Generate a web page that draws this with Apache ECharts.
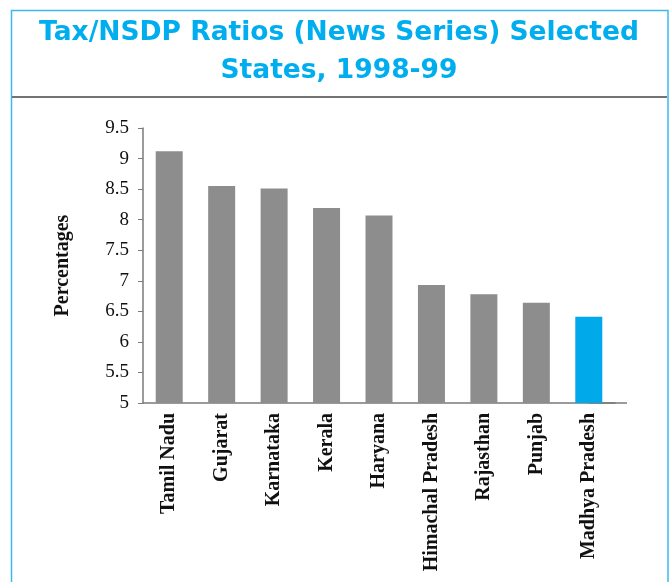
<!DOCTYPE html>
<html>
<head>
<meta charset="utf-8">
<style>
  html, body { margin: 0; padding: 0; background: #ffffff; }
  #chart { width: 672px; height: 582px; }
</style>
<script src="https://cdn.jsdelivr.net/npm/echarts@6/dist/echarts.min.js"></script>
</head>
<body>
<div id="chart"></div>
<script>
// Tax/NSDP ratios (new series), selected states, 1998-99
const states = ['Tamil Nadu', 'Gujarat', 'Karnataka', 'Kerala', 'Haryana',
                'Himachal Pradesh', 'Rajasthan', 'Punjab', 'Madhya Pradesh'];
const ratios = [9.12, 8.55, 8.51, 8.19, 8.07, 6.93, 6.78, 6.64, 6.41];
const highlightState = 'Madhya Pradesh';

const yMin = 5, yMax = 9.5, yStep = 0.5;

const GREY = '#8d8d8d';
const BLUE = '#00a9e9';
const AXIS = '#7a7a7a';
const SERIF = "'Liberation Serif', 'Times New Roman', serif";
const SANS = "'DejaVu Sans', 'Liberation Sans', Arial, sans-serif";

const chart = echarts.init(document.getElementById('chart'), null, { renderer: 'canvas' });

const option = {
  animation: false,
  backgroundColor: '#ffffff',
  title: {
    text: 'Tax/NSDP Ratios (News Series) Selected\nStates, 1998-99',
    left: 334,
    top: 9,
    textAlign: 'center',
    textStyle: {
      color: '#00aeef',
      fontFamily: SANS,
      fontWeight: 'bold',
      fontSize: 26.5,
      lineHeight: 38
    }
  },
  grid: { left: 143, top: 128, right: 57, bottom: 179, containLabel: false },
  xAxis: {
    type: 'category',
    data: states,
    boundaryGap: true,
    axisLine: { show: true, lineStyle: { color: AXIS, width: 1.5 } },
    axisTick: { show: false },
    axisLabel: {
      rotate: 90,
      margin: 10,
      interval: 0,
      color: '#111111',
      fontFamily: SERIF,
      fontWeight: 'bold',
      fontSize: 20
    },
    splitLine: { show: false }
  },
  yAxis: {
    type: 'value',
    min: yMin,
    max: yMax,
    interval: yStep,
    name: 'Percentages',
    nameLocation: 'middle',
    nameGap: 70,
    nameTextStyle: {
      color: '#111111',
      fontFamily: SERIF,
      fontWeight: 'bold',
      fontSize: 20
    },
    axisLine: { show: true, lineStyle: { color: AXIS, width: 1.5 } },
    axisTick: { show: true, inside: false, length: 5, lineStyle: { color: AXIS, width: 1 } },
    axisLabel: {
      margin: 14,
      color: '#111111',
      fontFamily: SERIF,
      fontSize: 19
    },
    splitLine: { show: false }
  },
  series: [{
    type: 'bar',
    barWidth: 27,
    data: ratios.map((v, i) => ({
      value: v,
      itemStyle: { color: states[i] === highlightState ? BLUE : GREY }
    }))
  }]
};

chart.setOption(option);

// Frame around the figure, the rule under the heading, and the tail of the x axis line
const axisY = chart.convertToPixel({ yAxisIndex: 0 }, yMin);
const axisEnd = chart.convertToPixel({ gridIndex: 0 }, [states.length - 1, yMin]);
chart.setOption({
  graphic: [
    {
      type: 'rect',
      shape: { x: 11.5, y: 10.5, width: 656.5, height: 600 },
      style: { fill: 'none', stroke: '#3fb9ec', lineWidth: 1.5 },
      silent: true
    },
    {
      type: 'line',
      shape: { x1: 12, y1: 97, x2: 667, y2: 97 },
      style: { stroke: '#737373', lineWidth: 2 },
      silent: true
    },
    {
      type: 'line',
      shape: { x1: axisEnd[0], y1: axisY, x2: 627, y2: axisY },
      style: { stroke: AXIS, lineWidth: 1.5 },
      silent: true
    }
  ]
});
</script>
</body>
</html>
